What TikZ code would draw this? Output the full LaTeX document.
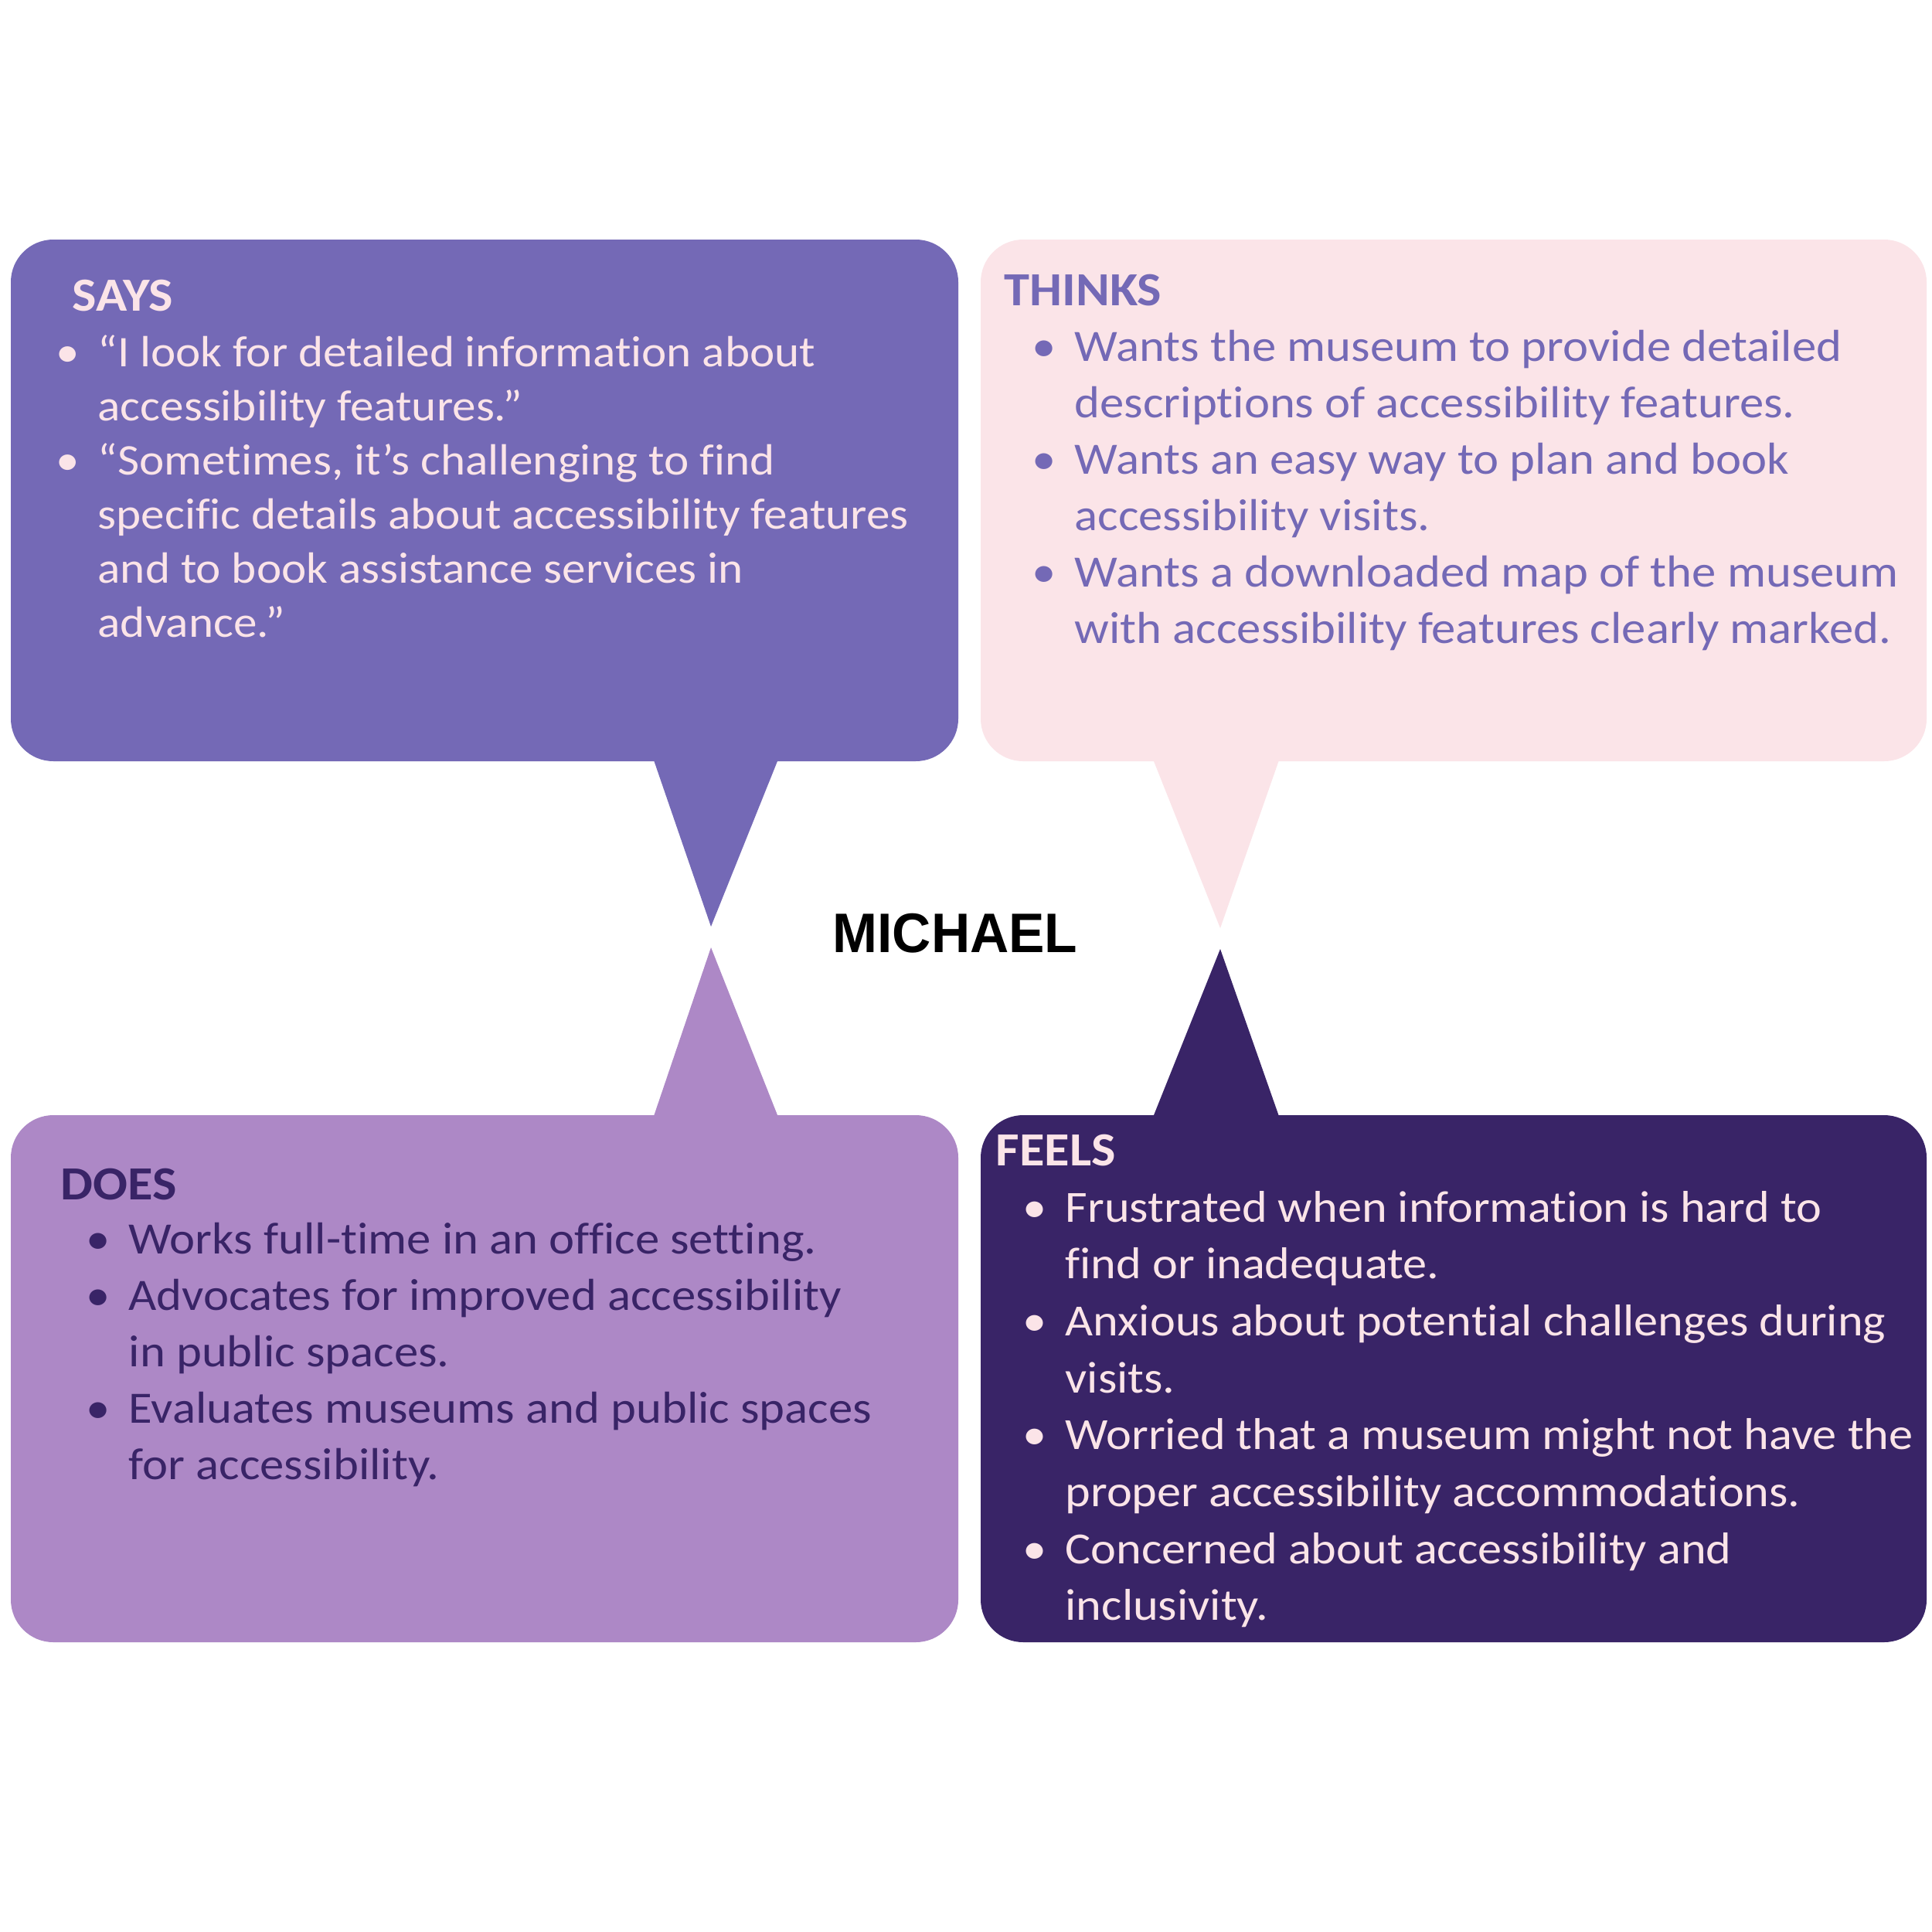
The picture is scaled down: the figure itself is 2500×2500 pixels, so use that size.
\documentclass[tikz,border=0pt]{standalone}
\usepackage{fontspec}
\setmainfont[FakeStretch=1.08,Ligatures=NoCommon]{Carlito}
\newfontfamily\namefont[FakeStretch=0.965]{Liberation Sans}
\definecolor{sayscol}{HTML}{7469B6}
\definecolor{thinkscol}{HTML}{FBE4E8}
\definecolor{doescol}{HTML}{AD88C6}
\definecolor{feelscol}{HTML}{392467}
\newcommand{\bul}{\llap{\textbullet\hspace{0.24cm}}}
\tikzset{
  bubble/.style={rounded corners=0.55cm},
  head/.style={anchor=base west,inner sep=0pt,font=\fontsize{17.5}{20}\selectfont\bfseries},
  itemline/.style={anchor=base west,inner sep=0pt,font=\fontsize{16.5}{20}\selectfont}
}
\begin{document}
\begin{tikzpicture}[x=0.01cm,y=-0.01cm]
        \useasboundingbox[fill=white] (0,0) rectangle (2500,2500);
        % bubbles
        \fill[sayscol,bubble] (14,310) rectangle (1240,985);
        \fill[sayscol] (843,975) -- (1010,975) -- (920,1199) -- cycle;
        \fill[thinkscol,bubble] (1269,310) rectangle (2493,985);
        \fill[thinkscol] (1489,975) -- (1658,975) -- (1579,1201) -- cycle;
        \fill[doescol,bubble] (14,1443) rectangle (1240,2125);
        \fill[doescol] (843,1453) -- (1010,1453) -- (920,1226) -- cycle;
        \fill[feelscol,bubble] (1269,1443) rectangle (2493,2125);
        \fill[feelscol] (1489,1453) -- (1658,1453) -- (1579,1228) -- cycle;
        % name
        \node[anchor=base,inner sep=0pt,font=\namefont\bfseries\fontsize{20.5}{24}\selectfont] (name) at (1236,1232) {MICHAEL};
        % says
        \node[head,text=thinkscol] (says) at (93,402) {SAYS};
        \foreach \t [count=\i] in {{\bul “I look for detailed information about},{accessibility features.”},{\bul “Sometimes, it’s challenging to find},{specific details about accessibility features},{and to book assistance services in},{advance.”}}
          \node[itemline,text=thinkscol,font=\fontsize{16.1}{20}\selectfont] (says\i) at (126,{474+(\i-1)*70}) {\t};
        % thinks
        \node[head,text=sayscol] (thinks) at (1299,395) {THINKS};
        \foreach \t [count=\i] in {{\bul Wants the museum to provide detailed},{descriptions of accessibility features.},{\bul Wants an easy way to plan and book},{accessibility visits.},{\bul Wants a downloaded map of the museum},{with accessibility features clearly marked.}}
          \node[itemline,text=sayscol] (thinks\i) at (1390,{467+(\i-1)*73}) {\t};
        % does
        \node[head,text=feelscol] (does) at (78,1552) {DOES};
        \foreach \t [count=\i] in {{\bul Works full-time in an office setting.},{\bul Advocates for improved accessibility},{in public spaces.},{\bul Evaluates museums and public spaces},{for accessibility.}}
          \node[itemline,text=feelscol] (does\i) at (166,{1622+(\i-1)*73}) {\t};
        % feels
        \node[head,text=thinkscol] (feels) at (1288,1508) {FEELS};
        \foreach \t [count=\i] in {{\bul Frustrated when information is hard to},{find or inadequate.},{\bul Anxious about potential challenges during},{visits.},{\bul Worried that a museum might not have the},{proper accessibility accommodations.},{\bul Concerned about accessibility and},{inclusivity.}}
          \node[itemline,text=thinkscol,font=\fontsize{16.4}{20}\selectfont] (feels\i) at (1378,{1581+(\i-1)*73.7}) {\t};
\end{tikzpicture}
\end{document}
